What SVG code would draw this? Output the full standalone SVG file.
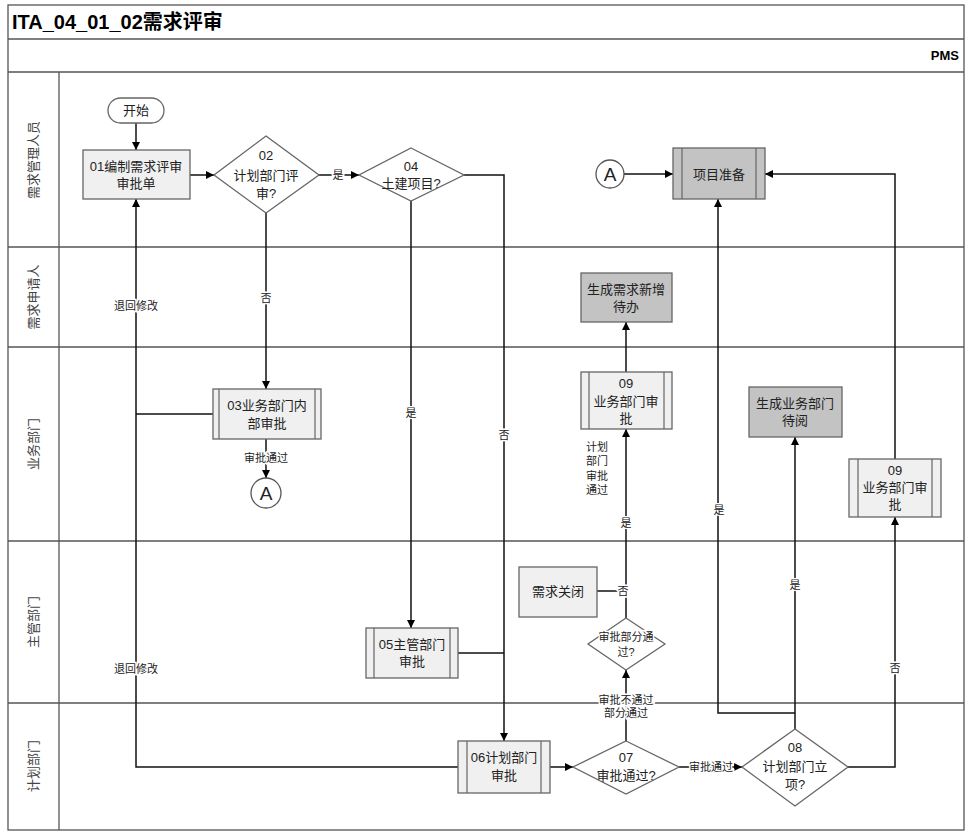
<svg xmlns="http://www.w3.org/2000/svg" width="969" height="832" viewBox="0 0 969 832">
<defs>
<marker id="arr" viewBox="0 0 10 10" refX="10" refY="5" markerWidth="8" markerHeight="8" markerUnits="userSpaceOnUse" orient="auto">
<path d="M0,0 L10,5 L0,10 z" fill="#000"/>
</marker>
<style>
text{font-family:"Liberation Sans","Noto Sans CJK SC",sans-serif;fill:#222}
.lane{stroke:#555;stroke-width:1.3;fill:none}
.lt{font-size:13px;fill:#444}
.box{fill:#f0f0f0;stroke:#666;stroke-width:1.3}
.dark{fill:#c3c3c3;stroke:#666;stroke-width:1.3}
.dia{fill:#fff;stroke:#666;stroke-width:1.3}
.in{stroke:#666;stroke-width:1.2}
.t{font-size:13px;text-anchor:middle}
.c{fill:none;stroke:#111;stroke-width:1.5}
.lbl{font-size:11px;text-anchor:middle;stroke:#fff;stroke-width:3;paint-order:stroke}
</style>
</defs>
<rect width="969" height="832" fill="#fff"/>
<g id="frame">
<rect x="8" y="5" width="956" height="825" class="lane"/>
<line x1="8" y1="39" x2="964" y2="39" class="lane"/>
<line x1="8" y1="72" x2="964" y2="72" class="lane"/>
<line x1="8" y1="247" x2="964" y2="247" class="lane"/>
<line x1="8" y1="347" x2="964" y2="347" class="lane"/>
<line x1="8" y1="541" x2="964" y2="541" class="lane"/>
<line x1="8" y1="703" x2="964" y2="703" class="lane"/>
<line x1="59" y1="72" x2="59" y2="830" class="lane"/>
<text x="12" y="29" style="font-size:20px;font-weight:bold;fill:#000">ITA_04_01_02需求评审</text>
<text x="959" y="60" style="font-size:13px;font-weight:bold;fill:#000;text-anchor:end">PMS</text>
<text class="lt" transform="translate(38,160) rotate(-90)" text-anchor="middle">需求管理人员</text>
<text class="lt" transform="translate(38,297) rotate(-90)" text-anchor="middle">需求申请人</text>
<text class="lt" transform="translate(38,444) rotate(-90)" text-anchor="middle">业务部门</text>
<text class="lt" transform="translate(38,622) rotate(-90)" text-anchor="middle">主管部门</text>
<text class="lt" transform="translate(38,766) rotate(-90)" text-anchor="middle">计划部门</text>
</g>
<g id="connectors">
<path class="c" d="M136,123 V150" marker-end="url(#arr)"/>
<path class="c" d="M190,175 H214" marker-end="url(#arr)"/>
<path class="c" d="M319,175 H359" marker-end="url(#arr)"/>
<path class="c" d="M266,213 V389" marker-end="url(#arr)"/>
<path class="c" d="M266,439 V478" marker-end="url(#arr)"/>
<path class="c" d="M213,414 H136"/>
<path class="c" d="M458,767 H136 V199" marker-end="url(#arr)"/>
<path class="c" d="M411,201 V628" marker-end="url(#arr)"/>
<path class="c" d="M464,175 H504 V741" marker-end="url(#arr)"/>
<path class="c" d="M458,653 H504"/>
<path class="c" d="M550,767 H573" marker-end="url(#arr)"/>
<path class="c" d="M626,741 V670" marker-end="url(#arr)"/>
<path class="c" d="M626,618 V429" marker-end="url(#arr)"/>
<path class="c" d="M626,372 V322" marker-end="url(#arr)"/>
<path class="c" d="M626,591 H597"/>
<path class="c" d="M679,767 H742" marker-end="url(#arr)"/>
<path class="c" d="M795,729 V437" marker-end="url(#arr)"/>
<path class="c" d="M795,713 H718 V199" marker-end="url(#arr)"/>
<path class="c" d="M848,767 H895 V517" marker-end="url(#arr)"/>
<path class="c" d="M895,459 V174 H765" marker-end="url(#arr)"/>
<path class="c" d="M624,174 H673" marker-end="url(#arr)"/>
<text class="lbl" x="338" y="179">是</text>
<text class="lbl" x="266" y="302">否</text>
<text class="lbl" x="136" y="310">退回修改</text>
<text class="lbl" x="136" y="673">退回修改</text>
<text class="lbl" x="266" y="462">审批通过</text>
<text class="lbl" x="411" y="417">是</text>
<text class="lbl" x="504" y="439">否</text>
<text class="lbl" x="626" y="527">是</text>
<text class="lbl" x="623" y="595">否</text>
<text class="lbl" x="597" y="451">计划</text>
<text class="lbl" x="597" y="465">部门</text>
<text class="lbl" x="597" y="480">审批</text>
<text class="lbl" x="597" y="494">通过</text>
<text class="lbl" x="626" y="704">审批不通过</text>
<text class="lbl" x="626" y="717">部分通过</text>
<text class="lbl" x="711" y="771">审批通过</text>
<text class="lbl" x="719" y="514">是</text>
<text class="lbl" x="795" y="589">是</text>
<text class="lbl" x="895" y="672">否</text>
</g>
<g id="start">
<rect x="108" y="98" width="56" height="25" rx="12.5" fill="#fff" stroke="#666" stroke-width="1.3"/>
<text class="t" x="136" y="115">开始</text>
</g>
<g id="n01">
<rect class="box" x="83" y="150" width="107" height="49"/>
<text class="t" x="136" y="171">01编制需求评审</text>
<text class="t" x="136" y="188">审批单</text>
</g>
<g id="n02">
<polygon class="dia" points="266,136 319,175 266,213 214,175"/>
<text class="t" x="266" y="160">02</text>
<text class="t" x="266" y="180">计划部门评</text>
<text class="t" x="266" y="198">审?</text>
</g>
<g id="n04">
<polygon class="dia" points="411,148 464,175 411,201 359,175"/>
<text class="t" x="411" y="171">04</text>
<text class="t" x="411" y="188">土建项目?</text>
</g>
<g id="connA1">
<circle cx="610" cy="174" r="14" fill="#fff" stroke="#555" stroke-width="1.3"/>
<text x="610" y="181" style="font-size:19px;text-anchor:middle">A</text>
</g>
<g id="prep">
<rect class="dark" x="673" y="148" width="92" height="51"/>
<line class="in" x1="682" y1="148" x2="682" y2="199"/>
<line class="in" x1="756" y1="148" x2="756" y2="199"/>
<text class="t" x="719" y="179">项目准备</text>
</g>
<g id="todo">
<rect class="dark" x="581" y="273" width="91" height="49"/>
<text class="t" x="626" y="294">生成需求新增</text>
<text class="t" x="626" y="311">待办</text>
</g>
<g id="n03">
<rect class="box" x="213" y="389" width="108" height="50"/>
<line class="in" x1="219" y1="389" x2="219" y2="439"/>
<line class="in" x1="315" y1="389" x2="315" y2="439"/>
<text class="t" x="267" y="410">03业务部门内</text>
<text class="t" x="267" y="428">部审批</text>
</g>
<g id="connA2">
<circle cx="266" cy="493" r="15" fill="#fff" stroke="#555" stroke-width="1.3"/>
<text x="266" y="500" style="font-size:19px;text-anchor:middle">A</text>
</g>
<g id="n09a">
<rect class="box" x="581" y="372" width="91" height="57"/>
<line class="in" x1="589" y1="372" x2="589" y2="429"/>
<line class="in" x1="664" y1="372" x2="664" y2="429"/>
<text class="t" x="626" y="388">09</text>
<text class="t" x="626" y="406">业务部门审</text>
<text class="t" x="626" y="423">批</text>
</g>
<g id="readgen">
<rect class="dark" x="749" y="387" width="93" height="50"/>
<text class="t" x="795" y="408">生成业务部门</text>
<text class="t" x="795" y="425">待阅</text>
</g>
<g id="n09b">
<rect class="box" x="849" y="459" width="92" height="58"/>
<line class="in" x1="858" y1="459" x2="858" y2="517"/>
<line class="in" x1="932" y1="459" x2="932" y2="517"/>
<text class="t" x="895" y="475">09</text>
<text class="t" x="895" y="492">业务部门审</text>
<text class="t" x="895" y="509">批</text>
</g>
<g id="close">
<rect class="box" x="519" y="567" width="78" height="50"/>
<text class="t" x="558" y="596">需求关闭</text>
</g>
<g id="partial">
<polygon class="dia" points="626,618 665,644 626,670 588,644"/>
<text class="lbl" x="626" y="641">审批部分通</text>
<text class="lbl" x="626" y="656">过?</text>
</g>
<g id="n05">
<rect class="box" x="366" y="628" width="92" height="50"/>
<line class="in" x1="374" y1="628" x2="374" y2="678"/>
<line class="in" x1="450" y1="628" x2="450" y2="678"/>
<text class="t" x="412" y="649">05主管部门</text>
<text class="t" x="412" y="666">审批</text>
</g>
<g id="n06">
<rect class="box" x="458" y="741" width="92" height="52"/>
<line class="in" x1="467" y1="741" x2="467" y2="793"/>
<line class="in" x1="541" y1="741" x2="541" y2="793"/>
<text class="t" x="504" y="762">06计划部门</text>
<text class="t" x="504" y="780">审批</text>
</g>
<g id="n07">
<polygon class="dia" points="626,741 679,767 626,794 573,767"/>
<text class="t" x="626" y="762">07</text>
<text class="t" x="626" y="780">审批通过?</text>
</g>
<g id="n08">
<polygon class="dia" points="795,729 848,767 795,806 742,767"/>
<text class="t" x="795" y="752">08</text>
<text class="t" x="795" y="771">计划部门立</text>
<text class="t" x="795" y="789">项?</text>
</g>
</svg>
